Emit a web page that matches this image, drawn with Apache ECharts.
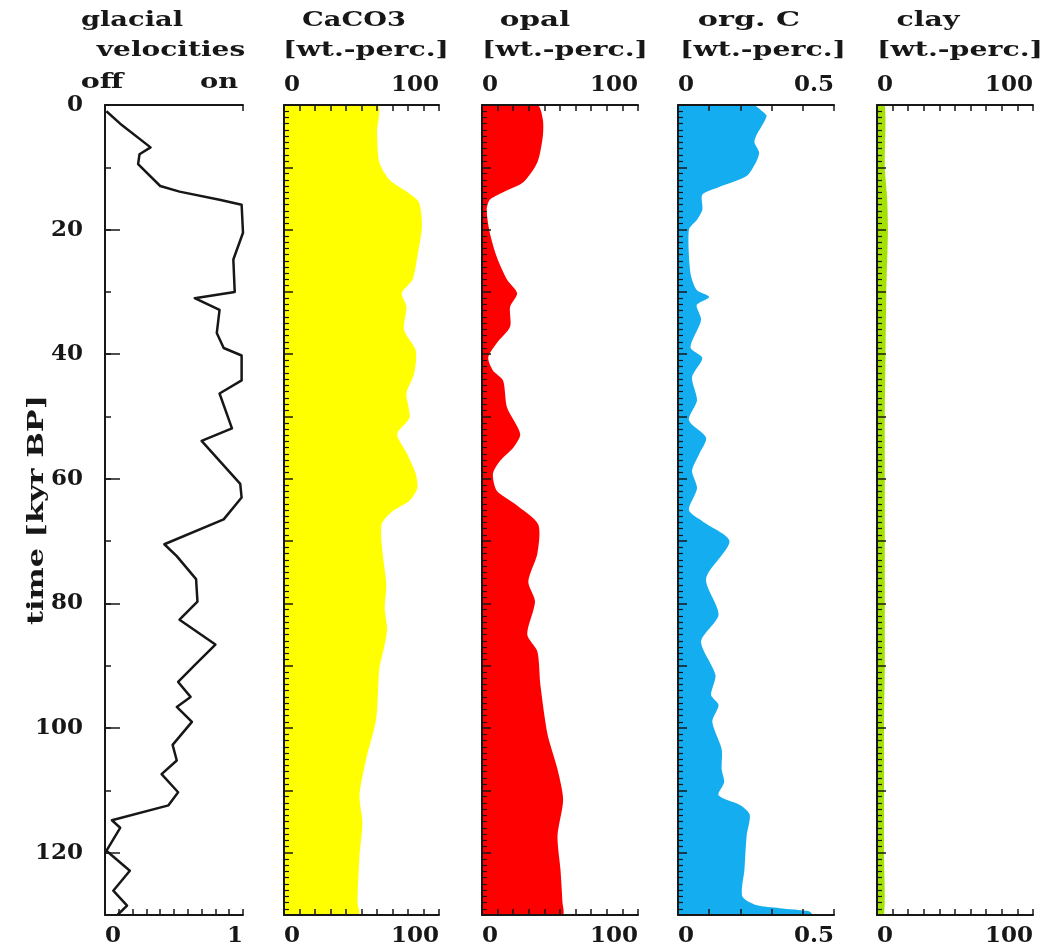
<!DOCTYPE html>
<html>
<head>
<meta charset="utf-8">
<script src="https://cdn.jsdelivr.net/npm/echarts@6/dist/echarts.min.js"></script>
<style>
  html, body { margin: 0; padding: 0; background: #ffffff; }
  #chart { width: 1047px; height: 948px; }
</style>
</head>
<body>
<div id="chart"></div>
<script>
// ---------------- data (time in kyr BP) ----------------
const glacialTime = [1, 3, 6.8, 7.9, 9.5, 13, 13.9, 15.2, 16, 20.5, 24.8, 30, 31, 32.9, 36.6, 39, 40.2, 44.2, 46.3,
  51.9, 53.9, 60.8, 63, 66.5, 70.5, 72.4, 76.1, 79.7, 82.6, 86.6, 89.9, 92.6, 95, 96.6, 99, 102.7, 105.2, 107.4,
  110.3, 112.4, 114.8, 116, 119.7, 122.9, 126.1, 128.5, 130];
const glacialVel = [0.01, 0.11, 0.33, 0.25, 0.24, 0.40, 0.54, 0.83, 0.99, 1.0, 0.93, 0.94, 0.65, 0.83, 0.81, 0.86,
  0.99, 0.99, 0.83, 0.92, 0.70, 0.98, 0.99, 0.86, 0.43, 0.52, 0.66, 0.67, 0.54, 0.80, 0.65, 0.53, 0.62, 0.52, 0.63,
  0.49, 0.52, 0.41, 0.53, 0.46, 0.05, 0.11, 0.01, 0.18, 0.06, 0.16, 0.09];

const caco3Time = [0, 4.4, 9.2, 12, 13.9, 15.6, 19.5, 24.4, 28, 30.2, 32.4, 36.1, 39.4, 43.1, 46.3, 50.2, 52.8, 56,
  59.2, 61.5, 63.5, 65.2, 67.3, 71.6, 77, 80.8, 84, 86.6, 90.5, 98.5, 105, 110.8, 115.2, 120.5, 128, 130];
const caco3Val = [60, 60, 61.5, 68, 79, 87, 89, 86, 83, 76, 79, 77.5, 85, 84, 79, 81, 73, 79.5, 85, 86, 81, 70, 63,
  63.5, 66, 65, 66.5, 65, 61.5, 59.5, 53, 48.7, 50.6, 48.7, 47.4, 48];

const opalTime = [0, 2.3, 5, 9.2, 12.4, 14, 15.2, 16.8, 20.5, 24.4, 28, 30.2, 32.4, 35.6, 38.2, 40.5, 42.6, 44.2,
  48.5, 52.8, 55, 57.1, 59.2, 61.9, 64, 67.3, 72, 76.5, 79.7, 85, 87.7, 93, 101, 106.6, 111.5, 117.3, 122.7, 128, 130];
const opalVal = [35.5, 39, 39, 35.5, 26.5, 13.5, 5, 3, 5, 9.5, 16, 22.5, 18, 18, 9.5, 4, 7, 13.5, 16, 24.5, 20, 11.6,
  7, 9.5, 21, 36, 35.5, 29.7, 34, 29, 35.5, 37.4, 42, 48.4, 52, 48.4, 50.3, 51.6, 51.6];

const orgcTime = [0, 1, 1.8, 5, 6, 7.6, 9.2, 11.4, 13.2, 14.4, 16.8, 18.4, 20, 27, 29.7, 30.8, 32.1, 34.5, 38.9, 40.6,
  43.7, 47.4, 50.6, 53.4, 56, 58.7, 61.5, 65, 66.8, 70, 76, 81.8, 86.1, 91.5, 94.7, 96.3, 99, 103.4, 106.6, 108.7,
  110.8, 112.4, 113.9, 117.3, 122.7, 127, 128.4, 128.9, 129.4, 130];
const orgcVal = [0.24, 0.27, 0.284, 0.25, 0.245, 0.26, 0.25, 0.22, 0.13, 0.078, 0.078, 0.061, 0.035, 0.04, 0.06, 0.1,
  0.06, 0.074, 0.04, 0.078, 0.045, 0.061, 0.035, 0.09, 0.068, 0.045, 0.061, 0.035, 0.078, 0.165, 0.09, 0.13, 0.074,
  0.12, 0.106, 0.13, 0.11, 0.14, 0.14, 0.148, 0.13, 0.2, 0.23, 0.22, 0.213, 0.206, 0.25, 0.326, 0.42, 0.43];

const clayTime = [0, 10, 15, 20, 30, 40, 50, 60, 70, 80, 90, 100, 110, 120, 130];
const clayVal = [5, 5, 6.5, 7, 6, 5.5, 5, 5, 5, 5, 5, 4.5, 4.5, 4.5, 4.5];

// tick labels
const timeLabels = [0, 20, 40, 60, 80, 100, 120];
const velocityEnds = ['0', '1'];
const caco3Ends = ['0', '100'];
const opalEnds = ['0', '100'];
const orgcEnds = ['0', '0.5'];
const clayEnds = ['0', '100'];

// panel headings
const velocityTitle = ['glacial', 'velocities'];
const velocityStates = ['off', 'on'];
const caco3Title = ['CaCO3', '[wt.-perc.]'];
const opalTitle = ['opal', '[wt.-perc.]'];
const orgcTitle = ['org. C', '[wt.-perc.]'];
const clayTitle = ['clay', '[wt.-perc.]'];
const timeTitle = 'time [kyr BP]';

// ---------------- layout & style ----------------
const INK = '#171717';
const FONT = 'DejaVu Serif';
const TOP = 105, HEIGHT = 810, TMAX = 130;

const panels = [
  { left: 105, width: 138, min: 0, max: 1, tick: 0.1, ends: velocityEnds },
  { left: 284, width: 155, min: 0, max: 100, tick: 10, ends: caco3Ends },
  { left: 482, width: 156, min: 0, max: 100, tick: 10, ends: opalEnds },
  { left: 678, width: 156, min: 0, max: 0.5, tick: 0.1, ends: orgcEnds },
  { left: 877, width: 156, min: 0, max: 100, tick: 10, ends: clayEnds }
];

const labelFont = { fontFamily: FONT, fontWeight: 'bold', fontSize: 23, color: INK };

const grids = panels.map(p => ({
  left: p.left, width: p.width, top: TOP, height: HEIGHT,
  containLabel: false, outerBoundsMode: 'none'
}));

const xAxes = [];
panels.forEach((p, i) => {
  ['bottom', 'top'].forEach(pos => {
    const bare = pos === 'top' && i === 0;
    xAxes.push({
      type: 'value', gridIndex: i, position: pos,
      min: p.min, max: p.max, interval: bare ? 1 : p.tick,
      axisLine: { show: true, onZero: false, lineStyle: { color: INK, width: 2 } },
      axisTick: { show: true, inside: true, length: 6, lineStyle: { color: INK, width: 1.5 } },
      splitLine: { show: false },
      axisLabel: {
        show: !bare, margin: pos === 'top' ? 8 : 10, ...labelFont,
        alignMinLabel: 'left', alignMaxLabel: 'right',
        showMinLabel: true, showMaxLabel: true, hideOverlap: false,
        formatter: v => Math.abs(v - p.min) < 1e-9 ? p.ends[0]
          : (Math.abs(v - p.max) < 1e-9 ? p.ends[1] : '')
      },
      z: 5
    });
  });
});

const yAxes = panels.map((p, i) => ({
  type: 'value', gridIndex: i, position: 'left', inverse: true,
  min: 0, max: TMAX, interval: 10,
  axisLine: { show: true, onZero: false, lineStyle: { color: INK, width: 2 } },
  axisTick: { show: true, inside: true, length: i === 0 ? 6 : 9, lineStyle: { color: INK, width: 1.5 } },
  minorTick: { show: i > 0, splitNumber: 10, length: 5, lineStyle: { color: INK, width: 1.2 } },
  splitLine: { show: false },
  axisLabel: {
    show: i === 0, margin: 22, ...labelFont,
    formatter: v => timeLabels.indexOf(v) >= 0 ? String(v) : ''
  },
  z: 5
}));
// long ticks at the labelled times of the velocity panel
yAxes.push({
  type: 'value', gridIndex: 0, position: 'left', offset: 0, inverse: true,
  min: 0, max: TMAX, interval: 20,
  axisLine: { show: false },
  axisTick: { show: true, inside: true, length: 15, lineStyle: { color: INK, width: 1.5 } },
  axisLabel: { show: false }, splitLine: { show: false }, z: 5
});

// filled profile, closed against the zero line of its panel
function profile(panel, times, values, color) {
  return {
    type: 'custom', xAxisIndex: panel * 2, yAxisIndex: panel, clip: true, z: 2,
    data: times.map((t, k) => [values[k], t]),
    renderItem: function (params, api) {
      if (params.dataIndex !== 0) return null;
      const pts = [api.coord([0, times[0]])];
      for (let k = 0; k < times.length; k++) pts.push(api.coord([values[k], times[k]]));
      pts.push(api.coord([0, times[times.length - 1]]));
      return { type: 'polygon', shape: { points: pts, smooth: 0.25 }, style: { fill: color, stroke: null } };
    },
    animation: false, silent: true
  };
}

function text(s, x, y, sx, rot, size) {
  return {
    type: 'text', x: x, y: y, rotation: rot || 0, scaleX: sx, z: 10,
    style: {
      text: s, x: 0, y: 0, fill: INK, font: 'bold ' + (size || 21) + 'px "DejaVu Serif"',
      align: 'center', verticalAlign: 'middle', textAlign: 'center', textVerticalAlign: 'middle'
    }
  };
}

const graphics = [
  text(velocityTitle[0], 132, 21, 1.30), text(velocityTitle[1], 171, 51, 1.335),
  text(velocityStates[0], 102, 83, 1.36), text(velocityStates[1], 219, 83, 1.3),
  text(caco3Title[0], 354, 21, 1.30), text(caco3Title[1], 366, 51, 1.35),
  text(opalTitle[0], 535, 21, 1.4), text(opalTitle[1], 565, 51, 1.35),
  text(orgcTitle[0], 749, 21, 1.44), text(orgcTitle[1], 763, 51, 1.35),
  text(clayTitle[0], 928, 21, 1.35), text(clayTitle[1], 960, 51, 1.35),
  text(timeTitle, 37, 510, 1.32, Math.PI / 2, 23)
];

const chart = echarts.init(document.getElementById('chart'), null, { renderer: 'canvas' });
chart.setOption({
  backgroundColor: '#ffffff',
  animation: false,
  grid: grids,
  xAxis: xAxes,
  yAxis: yAxes,
  graphic: graphics,
  series: [
    {
      type: 'line', xAxisIndex: 0, yAxisIndex: 0,
      data: glacialTime.map((t, k) => [glacialVel[k], t]),
      showSymbol: false, symbol: 'none', clip: true, z: 3,
      lineStyle: { color: INK, width: 2.5, join: 'round' }
    },
    profile(1, caco3Time, caco3Val, '#ffff00'),
    profile(2, opalTime, opalVal, '#ff0000'),
    profile(3, orgcTime, orgcVal, '#14aef0'),
    profile(4, clayTime, clayVal, '#a4e000')
  ]
});
</script>
</body>
</html>
